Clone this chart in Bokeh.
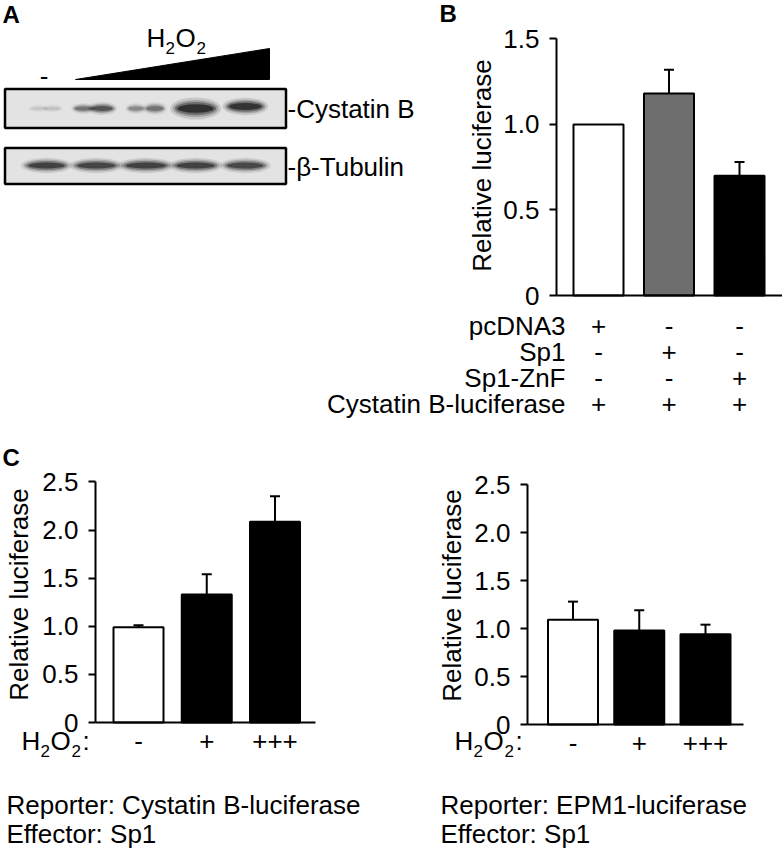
import math
from bokeh.plotting import figure
from bokeh.models import Range1d, FixedTicker, Whisker, TeeHead, ColumnDataSource
from bokeh.layouts import row, column
from bokeh.core.properties import value
from bokeh.embed import file_html
from bokeh.resources import INLINE

FONT = "Liberation Sans"
FS_PX = 26
SUB_PX = 17
BOLD_PX = 24
FS = "%dpx" % FS_PX
SUB_FS = "%dpx" % SUB_PX
BOLD_FS = "%dpx" % BOLD_PX
SHIFT = 0.31  # baseline correction (em) for alphabetic text placement

# ---------------- data ----------------
# Panel A: western blot (lane intensities, 0..1)
lanes = [1, 2, 3, 4, 5]
cys_band_lane = [1, 1, 2, 2, 3, 3, 4, 5]
cys_band_shift = [-0.16, 0.12, -0.26, 0.12, -0.2, 0.18, 0.0, 0.0]
cys_band_width = [16, 16, 18, 22, 16, 18, 38, 34]
cys_band_height = [4, 4, 5, 6, 5, 6, 10, 8]
cys_band_level = [0.10, 0.12, 0.50, 0.70, 0.38, 0.50, 1.0, 0.98]
tub_band_width = [38, 40, 42, 40, 38]
tub_band_level = [0.85, 0.82, 0.85, 0.85, 0.80]

# Panel B
B_rows = ["pcDNA3", "Sp1", "Sp1-ZnF", "Cystatin B-luciferase"]
B_signs = [["+", "-", "-"], ["-", "+", "-"], ["-", "-", "+"], ["+", "+", "+"]]
B_values = [1.0, 1.18, 0.70]
B_err = [0.0, 0.14, 0.08]
B_colors = ["white", "#6e6e6e", "black"]
B_yticks = [0, 0.5, 1.0, 1.5]
B_ylabels = ["0", "0.5", "1.0", "1.5"]

# Panel C
C_signs = ["-", "+", "+++"]
C_colors = ["white", "black", "black"]
C1_values = [0.99, 1.33, 2.085]
C1_err = [0.02, 0.21, 0.265]
C2_values = [1.09, 0.98, 0.94]
C2_err = [0.19, 0.21, 0.10]
C_yticks = [0, 0.5, 1.0, 1.5, 2.0, 2.5]
C_ylabels = ["0", "0.5", "1.0", "1.5", "2.0", "2.5"]
C1_caption = ["Reporter: Cystatin B-luciferase", "Effector: Sp1"]
C2_caption = ["Reporter: EPM1-luciferase", "Effector: Sp1"]


def base_fig(**kw):
    p = figure(toolbar_location=None, output_backend="svg", min_border=0, **kw)
    p.background_fill_color = "white"
    p.border_fill_color = "white"
    p.outline_line_color = None
    p.xgrid.visible = False
    p.ygrid.visible = False
    return p


def bl(py, size_px=FS_PX):
    """page-pixel baseline -> anchor pixel (empirical correction)"""
    return py - SHIFT * size_px


def txt(p, xs, ys, texts, size=FS, align="left", baseline="alphabetic", bold=False, angle=0.0):
    p.text(x=xs, y=ys, text=texts, text_font=value(FONT), text_font_size=value(size),
           text_align=align, text_baseline=baseline, angle=angle,
           text_font_style="bold" if bold else "normal", text_color="black")


def h2o2(p, xd, yd, left_px, base_px, colon):
    pieces = [("H", 0, 0, FS, FS_PX), ("2", 19, 7, SUB_FS, SUB_PX), ("O", 29, 0, FS, FS_PX),
              ("2", 50, 7, SUB_FS, SUB_PX)]
    if colon:
        pieces.append((":", 61, 0, FS, FS_PX))
    for t, dx, dy, s, spx in pieces:
        txt(p, [xd(left_px + dx)], [yd(bl(base_px + dy, spx))], [t], size=s)


def style_axes(p, yticks, ylabels, y_at, xticks, xlabels, xbounds, xstandoff):
    ya = p.yaxis[0]
    ya.fixed_location = y_at
    ya.ticker = FixedTicker(ticks=yticks)
    ya.major_label_overrides = {t: l for t, l in zip(yticks, ylabels)}
    ya.bounds = (yticks[0], yticks[-1])
    ya.axis_line_width = 2
    ya.axis_line_color = "black"
    ya.major_tick_line_width = 2
    ya.major_tick_line_color = "black"
    ya.major_tick_out = 7
    ya.major_tick_in = 0
    ya.minor_tick_line_color = None
    ya.major_label_text_font = FONT
    ya.major_label_text_font_size = FS
    ya.major_label_text_color = "black"
    ya.major_label_standoff = 10
    xa = p.xaxis[0]
    xa.fixed_location = 0
    xa.ticker = FixedTicker(ticks=xticks)
    if xticks:
        xa.major_label_overrides = {t: l for t, l in zip(xticks, xlabels)}
    xa.bounds = xbounds
    xa.axis_line_width = 2
    xa.axis_line_color = "black"
    xa.major_tick_out = 0
    xa.major_tick_in = 0
    xa.minor_tick_line_color = None
    xa.major_label_text_font = FONT
    xa.major_label_text_font_size = FS
    xa.major_label_text_color = "black"
    xa.major_label_standoff = xstandoff


def bars(p, values, errs, colors, width):
    xs = list(range(1, len(values) + 1))
    src = ColumnDataSource(dict(x=xs, top=values, color=colors))
    p.vbar(x="x", top="top", bottom=0, width=width, source=src, fill_color="color",
           line_color="black", line_width=2)
    wx = [x for x, e in zip(xs, errs) if e > 0]
    wl = [v for v, e in zip(values, errs) if e > 0]
    wu = [v + e for v, e in zip(values, errs) if e > 0]
    wsrc = ColumnDataSource(dict(x=wx, lower=wl, upper=wu))
    p.add_layout(Whisker(source=wsrc, base="x", lower="lower", upper="upper", dimension="height",
                         line_width=2, line_color="black",
                         upper_head=TeeHead(size=10, line_width=2, line_color="black"),
                         lower_head=None))


TOP_H = 310
ROWS_H = 110
BOT_H = 853 - TOP_H - ROWS_H

# ---------------- Panel A ----------------
A_W = 430
A_LANE1 = 46.0
A_STEP = 49.7


def ax_(px):
    return 1 + (px - A_LANE1) / A_STEP


def ay(py):
    return py


figA = base_fig(width=A_W, height=TOP_H, x_range=Range1d(ax_(0), ax_(A_W)),
                y_range=Range1d(TOP_H, 0), x_axis_location=None, y_axis_location=None)
txt(figA, [ax_(2)], [bl(21, BOLD_PX)], ["A"], size=BOLD_FS, bold=True)
txt(figA, [ax_(43.5)], [bl(84)], ["-"], align="center")
figA.patch(x=[ax_(75), ax_(269), ax_(269)], y=[79, 79, 48], fill_color="black", line_color="black")
h2o2(figA, ax_, ay, 146, 46, False)

# blot frames
figA.quad(left=[ax_(4.5), ax_(4.5)], right=[ax_(285.5), ax_(285.5)], top=[88.5, 147.5],
          bottom=[127.5, 183.5], fill_color="#e3e3e3", line_color="black", line_width=2.5)
layers = [(1.35, 2.2, 0.12), (1.2, 1.7, 0.2), (1.08, 1.3, 0.32), (0.95, 0.85, 0.55)]
cx = [l + s for l, s in zip(cys_band_lane, cys_band_shift)]
cy = [108 if l < 5 else 106 for l in cys_band_lane]
for wm, hm, am in layers:
    figA.ellipse(x=cx, y=cy, width=[w * wm for w in cys_band_width],
                 height=[h * hm for h in cys_band_height],
                 width_units="screen", height_units="screen", fill_color="black",
                 fill_alpha=[min(1.0, v * am) for v in cys_band_level], line_color=None)
    figA.ellipse(x=lanes, y=[165] * 5, width=[w * wm for w in tub_band_width], height=[7 * hm] * 5,
                 width_units="screen", height_units="screen", fill_color="black",
                 fill_alpha=[min(1.0, v * am) for v in tub_band_level], line_color=None)
txt(figA, [ax_(287), ax_(287)], [bl(117), bl(175)], ["-Cystatin B", "-\u03b2-Tubulin"])

# ---------------- Panel B ----------------
B_X0 = 430
B_W = 782 - B_X0
B_FL = 556
B_CAT1 = 598
B_UNIT = 70.5
B_ZERO = 295
B_YPX = 171.1


def bx(px):
    return 1 + (px - B_CAT1) / B_UNIT


def by(py):
    return (B_ZERO - py) / B_YPX


figB = base_fig(width=B_W, height=TOP_H, x_range=Range1d(bx(B_X0), bx(782)),
                y_range=Range1d(by(TOP_H), by(0)))
style_axes(figB, B_yticks, B_ylabels, bx(B_FL), [], [], (bx(B_FL), bx(782)), 5)
bars(figB, B_values, B_err, B_colors, 50 / B_UNIT)
txt(figB, [bx(439)], [by(bl(20, BOLD_PX))], ["B"], size=BOLD_FS, bold=True)
txt(figB, [bx(481)], [by(165)], ["Relative luciferase"], align="center", baseline="middle",
    angle=math.pi / 2)

# ---------------- Panel B table ----------------
ROW0 = bl(333.5)
ROW_STEP = 26.0


def ry(py):
    return (py - ROW0) / ROW_STEP


figR = base_fig(width=782, height=ROWS_H, x_range=Range1d(bx(0), bx(782)),
                y_range=Range1d(ry(TOP_H + ROWS_H), ry(TOP_H)),
                x_axis_location=None, y_axis_location=None)
txt(figR, [bx(565)] * len(B_rows), list(range(len(B_rows))), B_rows, align="right")
sx, sy, st = [], [], []
for i, signs in enumerate(B_signs):
    for j, s in enumerate(signs):
        sx.append(j + 1)
        sy.append(i)
        st.append(s)
txt(figR, sx, sy, st, align="center")

# ---------------- Panel C ----------------
Y0 = TOP_H + ROWS_H


def make_c(x0, width, fl, fr, cat1, unit, zero, ypx, values, errs, cap_x, caption, h_left,
           ylab_x, ylab_y, letter):
    def xd(px):
        return 1 + (px - cat1) / unit

    def yd(py):
        return (zero - py) / ypx

    p = base_fig(width=width, height=BOT_H, x_range=Range1d(xd(x0), xd(x0 + width)),
                 y_range=Range1d(yd(Y0 + BOT_H), yd(Y0)))
    style_axes(p, C_yticks, C_ylabels, xd(fl), [1, 2, 3], C_signs, (xd(fl), xd(fr)), 9)
    bars(p, values, errs, C_colors, 50 / unit)
    txt(p, [xd(ylab_x)], [yd(ylab_y)], ["Relative luciferase"], align="center", baseline="middle",
        angle=math.pi / 2)
    h2o2(p, xd, yd, h_left, 749, True)
    txt(p, [xd(cap_x)] * 2, [yd(bl(813)), yd(bl(842))], caption)
    if letter:
        txt(p, [xd(2)], [yd(bl(464, BOLD_PX))], [letter], size=BOLD_FS, bold=True)
    return p


figC1 = make_c(0, 400, 95, 315, 138, 68.25, 722, 96.24, C1_values, C1_err, 6, C1_caption, 21,
               18, 594, "C")
figC2 = make_c(400, 382, 527, 743, 572.5, 66.25, 724, 96.0, C2_values, C2_err, 440, C2_caption, 454,
               451, 595, None)

layout = column(row(figA, figB, spacing=0), figR, row(figC1, figC2, spacing=0), spacing=0)
open("out.html", "w").write(file_html(layout, INLINE, "figure"))
